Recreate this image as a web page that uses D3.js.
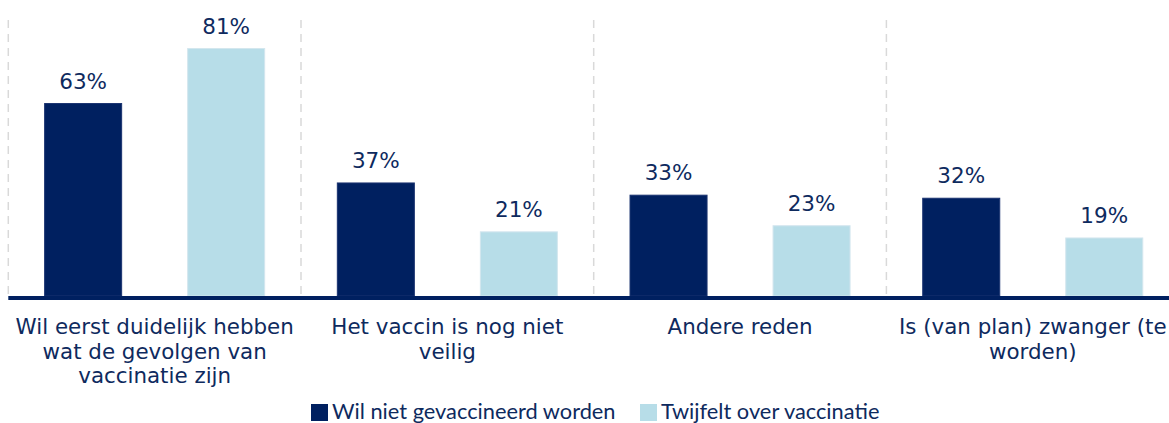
<!DOCTYPE html>
<html>
<head>
<meta charset="utf-8">
<script src="https://cdn.jsdelivr.net/npm/d3@7"></script>
<style>
  html, body { margin: 0; padding: 0; background: #fff; }
  svg { display: block; }
</style>
</head>
<body>
<svg id="chart" width="1169" height="423"></svg>
<script>
// ---- data ----
const categories = [
  "Wil eerst duidelijk hebben\nwat de gevolgen van\nvaccinatie zijn",
  "Het vaccin is nog niet\nveilig",
  "Andere reden",
  "Is (van plan) zwanger (te\nworden)"
];
const seriesNames = ["Wil niet gevaccineerd worden", "Twijfelt over vaccinatie"];
const wilNiet = [63, 37, 33, 32];
const twijfelt = [81, 21, 23, 19];
const seriesColors = ["#002060", "#B7DDE8"];

// ---- layout ----
const svg = d3.select("#chart");
const W = 1169, H = 423;
const plotLeft = 8.3, catStep = 292.7;
const baseY = 296, topY = -9.5;

const x0 = d3.scaleBand().domain(d3.range(categories.length))
  .range([plotLeft, plotLeft + catStep * categories.length]).paddingInner(0).paddingOuter(0);
const x1 = d3.scaleBand().domain([0, 1]).range([0, x0.bandwidth()])
  .paddingInner(0.4615).paddingOuter(0.254);
const y = d3.scaleLinear().domain([0, 100]).range([baseY, topY]);

const values = [wilNiet, twijfelt];
const textColor = "#0E2A5E";

// dashed separators
const seps = d3.range(categories.length).map(i => x0(i));
svg.append("g").selectAll("line").data(seps).join("line")
  .attr("x1", d => d).attr("x2", d => d)
  .attr("y1", 20).attr("y2", baseY)
  .attr("stroke", "#D9D9D9").attr("stroke-width", 1.5)
  .attr("stroke-dasharray", "8,6");

// bars
const rows = [];
categories.forEach((c, i) => values.forEach((arr, s) => rows.push({i, s, v: arr[i]})));

svg.append("g").selectAll("rect").data(rows).join("rect")
  .attr("x", d => x0(d.i) + x1(d.s))
  .attr("y", d => y(d.v))
  .attr("width", x1.bandwidth())
  .attr("height", d => y(0) - y(d.v))
  .attr("fill", d => seriesColors[d.s])
  .attr("stroke", d => d.s === 0 ? "#1a3370" : "#D3E6EE")
  .attr("stroke-width", 1);

// value labels
svg.append("g").selectAll("text").data(rows).join("text")
  .attr("x", d => x0(d.i) + x1(d.s) + x1.bandwidth() / 2)
  .attr("y", d => y(d.v) - 15)
  .attr("text-anchor", "middle")
  .attr("font-family", "DejaVu Sans, Verdana, sans-serif")
  .attr("font-size", 21.5)
  .attr("fill", textColor)
  .text(d => d.v + "%");

// axis line
const xAxis = d3.axisBottom(x0).tickSize(0).tickFormat("");
const ax = svg.append("g").attr("transform", `translate(0,${baseY + 2})`).call(xAxis);
ax.select(".domain").attr("stroke", "#002060").attr("stroke-width", 4)
  .attr("d", `M${plotLeft},0H${W + 20}`);

// category labels
const catG = svg.append("g");
categories.forEach((c, i) => {
  const t = catG.append("text")
    .attr("x", x0(i) + x0.bandwidth() / 2)
    .attr("y", 334)
    .attr("text-anchor", "middle")
    .attr("font-family", "DejaVu Sans, Verdana, sans-serif")
    .attr("font-size", 21.4)
    .attr("fill", textColor);
  c.split("\n").forEach((line, k) => {
    t.append("tspan").attr("x", x0(i) + x0.bandwidth() / 2)
      .attr("dy", k === 0 ? 0 : 24.5).text(line);
  });
});

// legend
const legend = svg.append("g");
const legX = [311, 640];
seriesNames.forEach((n, s) => {
  legend.append("rect").attr("x", legX[s]).attr("y", 404).attr("width", 17).attr("height", 17)
    .attr("fill", seriesColors[s]);
  legend.append("text").attr("x", legX[s] + 21).attr("y", 419)
    .attr("font-family", "Lato, 'Open Sans', sans-serif")
    .attr("font-size", 21.8)
    .attr("fill", textColor)
    .text(n);
});
</script>
</body>
</html>
